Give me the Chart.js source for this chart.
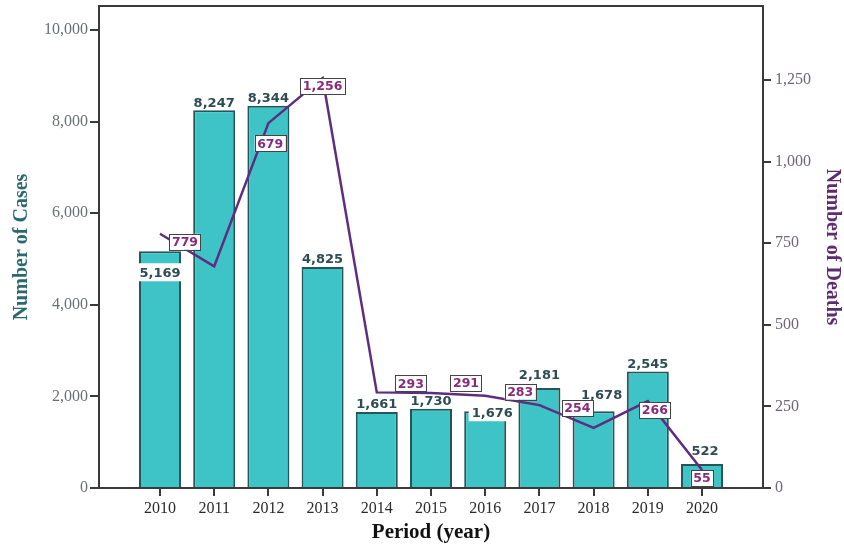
<!DOCTYPE html>
<html><head><meta charset="utf-8">
<script src="https://cdn.jsdelivr.net/npm/chart.js@4.4.0/dist/chart.umd.min.js"></script>
<style>html,body{margin:0;padding:0;background:#fff;}</style>
</head><body>
<canvas id="c" width="844" height="546"></canvas>
<script>
const years = [2010, 2011, 2012, 2013, 2014, 2015, 2016, 2017, 2018, 2019, 2020];
const cases = [5169, 8247, 8344, 4825, 1661, 1730, 1676, 2181, 1678, 2545, 522];
const deaths = [779, 679, 1118, 1256, 293, 291, 283, 254, 184, 266, 55];
const caseLabels = ['5,169', '8,247', '8,344', '4,825', '1,661', '1,730', '1,676', '2,181', '1,678', '2,545', '522'];
const deathLabels = ['779', '679', '', '1,256', '293', '291', '283', '254', '', '266', '55'];
const leftTicks = [0, 2000, 4000, 6000, 8000, 10000];
const rightTicks = [0, 250, 500, 750, 1000, 1250];

const AXIS = '#3a3a3a';
const SERIF = '"Liberation Serif", "Times New Roman", serif';
const SANS = '"DejaVu Sans", sans-serif';

// label placement tweaks (pixels)
const barLabelTweak = {0: [0, 29, true], 6: [7, 9, true], 7: [0, -5], 8: [8, -9], 10: [3, -5]};
const deathLabelTweak = {0: [25, 8], 1: [56, -123], 3: [0, 8], 4: [34, -9], 5: [35, -10], 6: [35, -4], 7: [38, 3], 9: [7, 9], 10: [0, 8]};

const labelsPlugin = {
  id: 'labels',
  afterDatasetDraw(chart, args) {
    if (args.index !== 0) return;
    const ctx = chart.ctx;
    const meta = chart.getDatasetMeta(0);
    ctx.save();
    ctx.font = 'bold 13px ' + SANS;
    ctx.textAlign = 'center';
    ctx.textBaseline = 'middle';
    meta.data.forEach((el, i) => {
      const t = barLabelTweak[i] || [0, 0];
      const x = el.x + t[0];
      const y = el.y - 8 + t[1];
      const txt = caseLabels[i];
      if (t[2]) {
        const w = ctx.measureText(txt).width + 6;
        ctx.fillStyle = '#ffffff';
        ctx.fillRect(x - w / 2, y - 9, w, 18);
      }
      ctx.fillStyle = '#2d4c53';
      ctx.fillText(txt, x, y + 1);
    });
    ctx.restore();
  },
  afterDatasetsDraw(chart) {
    const ctx = chart.ctx;
    const meta = chart.getDatasetMeta(1);
    ctx.save();
    ctx.font = 'bold 12.5px ' + SANS;
    ctx.textAlign = 'center';
    ctx.textBaseline = 'middle';
    meta.data.forEach((el, i) => {
      const txt = deathLabels[i];
      if (!txt) return;
      const t = deathLabelTweak[i] || [0, 0];
      const x = el.x + t[0];
      const y = el.y + t[1];
      const w = ctx.measureText(txt).width + 5;
      ctx.fillStyle = '#ffffff';
      ctx.fillRect(x - w / 2, y - 8, w, 16);
      ctx.strokeStyle = '#444';
      ctx.lineWidth = 1;
      ctx.strokeRect(Math.round(x - w / 2) + 0.5, Math.round(y - 8) + 0.5, Math.round(w), 16);
      ctx.fillStyle = '#8a2a7e';
      ctx.fillText(txt, x, y + 1);
    });
    // top frame line
    const a = chart.chartArea;
    ctx.strokeStyle = AXIS;
    ctx.lineWidth = 2;
    ctx.beginPath();
    ctx.moveTo(a.left - 1, a.top);
    ctx.lineTo(a.right + 1, a.top);
    ctx.stroke();
    ctx.restore();
  }
};

const fmt = v => Number(v).toLocaleString('en-US');
const noPadY = (s, w) => { s.width = w; s.paddingTop = 0; s.paddingBottom = 0; };

new Chart(document.getElementById('c'), {
  type: 'bar',
  data: {
    datasets: [
      {
        type: 'bar',
        data: years.map((y, i) => ({x: y, y: cases[i]})),
        backgroundColor: '#3ec4c6',
        borderColor: '#24555b',
        borderWidth: 2,
        barPercentage: 0.775,
        categoryPercentage: 1,
        xAxisID: 'x',
        yAxisID: 'y',
        order: 2
      },
      {
        type: 'line',
        data: years.map((y, i) => ({x: y, y: deaths[i]})),
        borderColor: '#5e2c80',
        borderWidth: 2.5,
        pointRadius: 0,
        tension: 0,
        fill: false,
        xAxisID: 'x',
        yAxisID: 'y1',
        order: 1
      }
    ]
  },
  options: {
    responsive: false,
    animation: false,
    devicePixelRatio: 1,
    layout: {padding: {top: 6, left: 0, right: 0, bottom: 0}},
    plugins: {legend: {display: false}, tooltip: {enabled: false}},
    scales: {
      x: {
        type: 'linear',
        min: 2008.875,
        max: 2021.125,
        offset: false,
        afterBuildTicks: s => { s.ticks = years.map(v => ({value: v})); },
        afterFit: s => { s.height = 58; s.paddingLeft = 0; s.paddingRight = 0; },
        ticks: {autoSkip: false, maxRotation: 0, padding: 3, color: '#2a2a2a',
                font: {family: SERIF, size: 16}, callback: v => String(v)},
        grid: {display: true, offset: false, drawOnChartArea: false, drawTicks: true, tickLength: 8, color: AXIS, lineWidth: 2},
        border: {display: true, color: AXIS, width: 2},
        title: {display: true, text: 'Period (year)', color: '#111',
                font: {family: SERIF, size: 21, weight: 'bold'}, padding: {top: 0, bottom: 1}}
      },
      y: {
        position: 'left',
        min: 0,
        max: 10524,
        afterBuildTicks: s => { s.ticks = leftTicks.map(v => ({value: v})); },
        afterFit: s => noPadY(s, 99),
        ticks: {padding: 2, color: '#6a7072', font: {family: SERIF, size: 16}, callback: fmt},
        grid: {display: true, drawOnChartArea: false, drawTicks: true, tickLength: 9, color: AXIS, lineWidth: 2},
        border: {display: true, color: AXIS, width: 2},
        title: {display: true, text: 'Number of Cases', color: '#2b6870',
                font: {family: SERIF, size: 20, weight: 'bold'}, padding: {top: 10, bottom: 0}}
      },
      y1: {
        position: 'right',
        min: 0,
        max: 1477,
        afterBuildTicks: s => { s.ticks = rightTicks.map(v => ({value: v})); },
        afterFit: s => noPadY(s, 81),
        ticks: {padding: 4, color: '#6f6579', font: {family: SERIF, size: 16}, callback: fmt},
        grid: {display: true, drawOnChartArea: false, drawTicks: true, tickLength: 8, color: AXIS, lineWidth: 2},
        border: {display: true, color: AXIS, width: 2},
        title: {display: true, text: 'Number of Deaths', color: '#5e2b6e',
                font: {family: SERIF, size: 20, weight: 'bold'}, padding: {top: 0, bottom: 0}}
      }
    }
  },
  plugins: [labelsPlugin]
});
</script>
</body></html>
